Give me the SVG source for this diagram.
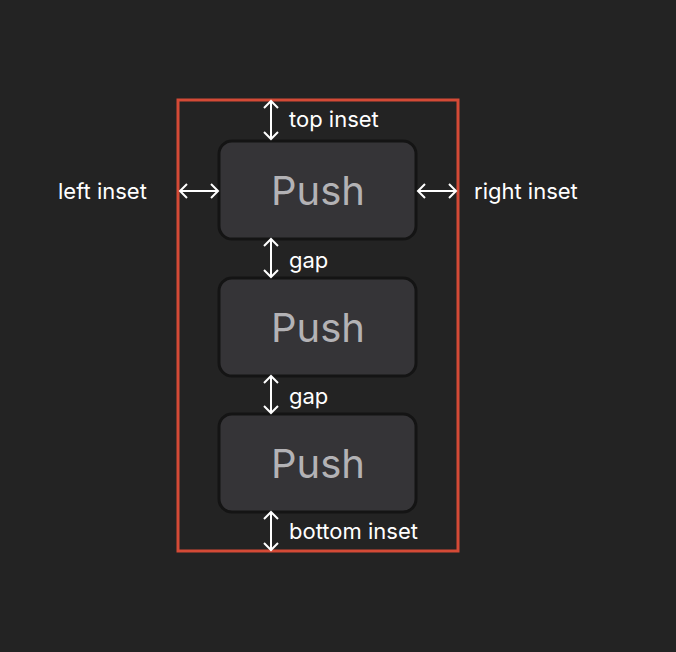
<svg xmlns="http://www.w3.org/2000/svg" width="676" height="652" viewBox="0 0 676 652">
<style>
.btn{fill:#353437;stroke:#141414;stroke-width:3}
.pt{font-family:Inter,"Liberation Sans",sans-serif;font-size:40px;fill:#b3b2b5;text-anchor:middle}
.lb{font-family:Inter,"Liberation Sans",sans-serif;font-size:22px;fill:#ffffff}
.ar{stroke:#fff;stroke-width:2;fill:none}
</style>
<rect width="676" height="652" fill="#232323"/>
<rect x="178" y="100" width="280" height="451" fill="none" stroke="#d44a36" stroke-width="3"/>
<g id="btn1"><rect class="btn" x="219" y="141" width="197" height="98" rx="13"/><text class="pt" x="318" y="205">Push</text></g>
<g id="btn2"><rect class="btn" x="219" y="278" width="197" height="98" rx="13"/><text class="pt" x="318" y="342">Push</text></g>
<g id="btn3"><rect class="btn" x="219" y="414" width="197" height="98" rx="13"/><text class="pt" x="318" y="478">Push</text></g>
<g id="connectors">
<path class="ar" d="M271 101V139M264 108L271 101L278 108M264 132L271 139L278 132"/>
<path class="ar" d="M271 239V277M264 246L271 239L278 246M264 270L271 277L278 270"/>
<path class="ar" d="M271 376V413M264 383L271 376L278 383M264 406L271 413L278 406"/>
<path class="ar" d="M271 512V550M264 519L271 512L278 519M264 543L271 550L278 543"/>
<path class="ar" d="M180 191H218M187 184L180 191L187 198M211 184L218 191L211 198"/>
<path class="ar" d="M418 191H456M425 184L418 191L425 198M449 184L456 191L449 198"/>
</g>
<text class="lb" x="289" y="127">top inset</text>
<text class="lb" x="289" y="268">gap</text>
<text class="lb" x="289" y="404">gap</text>
<text class="lb" x="289" y="539">bottom inset</text>
<text class="lb" x="58" y="199">left inset</text>
<text class="lb" x="474" y="199">right inset</text>
</svg>
